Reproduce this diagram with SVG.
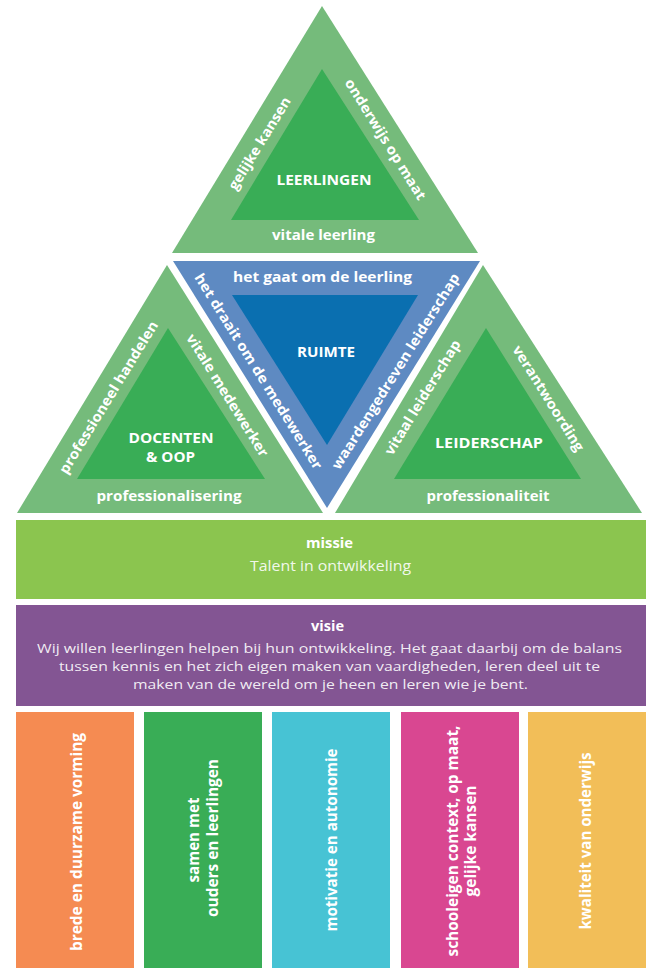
<svg xmlns="http://www.w3.org/2000/svg" width="648" height="968" viewBox="0 0 648 968">
<style>
.outer{fill:#75bb7b}
.inner{fill:#39ad56}
.bo{fill:#5e8ac2}
.bi{fill:#0a6fb0}
.b{font-family:"Open Sans","DejaVu Sans",sans-serif;font-weight:700;fill:#fff;text-anchor:middle;font-size:14px}
.r{font-family:"Open Sans","DejaVu Sans",sans-serif;font-weight:400;fill:#fff;fill-opacity:0.9;text-anchor:middle;font-size:15px}
.s{font-size:13px}
.c{dominant-baseline:central}
.v{font-size:16px}
</style>
<rect width="648" height="968" fill="#fff"/>
<g id="leerlingen">
<polygon class="outer" points="322,6 172,253 478,253"/>
<polygon class="inner" points="322,69 231,220 419,220"/>
<text class="b" x="324" y="185" textLength="95" lengthAdjust="spacingAndGlyphs">LEERLINGEN</text>
<text class="b" x="323.5" y="240" textLength="103" lengthAdjust="spacingAndGlyphs">vitale leerling</text>
<text class="b c" transform="translate(259,143) rotate(-58.5)" textLength="106" lengthAdjust="spacingAndGlyphs">gelijke kansen</text>
<text class="b c" transform="translate(386,139) rotate(58)" textLength="140" lengthAdjust="spacingAndGlyphs">onderwijs op maat</text>
</g>
<g id="ruimte">
<polygon class="bo" points="173,261 480,261 327,508"/>
<polygon class="bi" points="232,295 418,295 327,445"/>
<text class="b" x="322.5" y="282" textLength="179" lengthAdjust="spacingAndGlyphs">het gaat om de leerling</text>
<text class="b" x="326" y="357" textLength="58" lengthAdjust="spacingAndGlyphs">RUIMTE</text>
<text class="b c" transform="translate(259,371) rotate(58)" textLength="228" lengthAdjust="spacingAndGlyphs">het draait om de medewerker</text>
<text class="b c" transform="translate(395,371) rotate(-58)" textLength="228" lengthAdjust="spacingAndGlyphs">waardengedreven leiderschap</text>
</g>
<g id="docenten">
<polygon class="outer" points="167,265 17,513 323,513"/>
<polygon class="inner" points="168,328 77,479 265,479"/>
<text class="b" x="171" y="443" textLength="85" lengthAdjust="spacingAndGlyphs">DOCENTEN</text>
<text class="b" x="170.5" y="462" textLength="49" lengthAdjust="spacingAndGlyphs">&amp; OOP</text>
<text class="b" x="169" y="501" textLength="145" lengthAdjust="spacingAndGlyphs">professionalisering</text>
<text class="b c" transform="translate(108,397) rotate(-58.5)" textLength="176" lengthAdjust="spacingAndGlyphs">professioneel handelen</text>
<text class="b c" transform="translate(228,395) rotate(58)" textLength="142" lengthAdjust="spacingAndGlyphs">vitale medewerker</text>
</g>
<g id="leiderschap">
<polygon class="outer" points="483,265 335,513 642,513"/>
<polygon class="inner" points="486,328 394,479 581,479"/>
<text class="b" x="489" y="448" textLength="108" lengthAdjust="spacingAndGlyphs">LEIDERSCHAP</text>
<text class="b" x="488" y="501" textLength="123" lengthAdjust="spacingAndGlyphs">professionaliteit</text>
<text class="b c" transform="translate(422,397) rotate(-58.5)" textLength="132" lengthAdjust="spacingAndGlyphs">vitaal leiderschap</text>
<text class="b c" transform="translate(549,398) rotate(58)" textLength="122" lengthAdjust="spacingAndGlyphs">verantwoording</text>
</g>
<g id="missie">
<rect x="16" y="520" width="630" height="79" fill="#8bc54f"/>
<text class="b" x="329.5" y="548" textLength="47" lengthAdjust="spacingAndGlyphs">missie</text>
<text class="r" x="330.5" y="571" textLength="161" lengthAdjust="spacingAndGlyphs">Talent in ontwikkeling</text>
</g>
<g id="visie">
<rect x="16" y="605" width="630" height="101" fill="#835593"/>
<text class="b" x="327.5" y="631" textLength="33" lengthAdjust="spacingAndGlyphs">visie</text>
<text class="r s" x="329.5" y="653" textLength="585" lengthAdjust="spacingAndGlyphs">Wij willen leerlingen helpen bij hun ontwikkeling. Het gaat daarbij om de balans</text>
<text class="r s" x="329.5" y="671" textLength="541" lengthAdjust="spacingAndGlyphs">tussen kennis en het zich eigen maken van vaardigheden, leren deel uit te</text>
<text class="r s" x="330.5" y="689" textLength="395" lengthAdjust="spacingAndGlyphs">maken van de wereld om je heen en leren wie je bent.</text>
</g>
<g id="brede">
<rect x="16" y="712" width="118" height="256" fill="#f58b52"/>
<text class="b c v" transform="translate(76,842) rotate(-90)" textLength="218" lengthAdjust="spacingAndGlyphs">brede en duurzame vorming</text>
</g>
<g id="samen">
<rect x="144" y="712" width="118" height="256" fill="#39ad56"/>
<text class="b c v" transform="translate(193,840) rotate(-90)" textLength="85" lengthAdjust="spacingAndGlyphs">samen met</text>
<text class="b c v" transform="translate(212,838) rotate(-90)" textLength="158" lengthAdjust="spacingAndGlyphs">ouders en leerlingen</text>
</g>
<g id="motivatie">
<rect x="272" y="712" width="118" height="256" fill="#47c3d4"/>
<text class="b c v" transform="translate(331,840) rotate(-90)" textLength="183" lengthAdjust="spacingAndGlyphs">motivatie en autonomie</text>
</g>
<g id="schooleigen">
<rect x="401" y="712" width="118" height="256" fill="#d94791"/>
<text class="b c v" transform="translate(452,841) rotate(-90)" textLength="231" lengthAdjust="spacingAndGlyphs">schooleigen context, op maat,</text>
<text class="b c v" transform="translate(470,841) rotate(-90)" textLength="111" lengthAdjust="spacingAndGlyphs">gelijke kansen</text>
</g>
<g id="kwaliteit">
<rect x="528" y="712" width="118" height="256" fill="#f2be58"/>
<text class="b c v" transform="translate(585,841) rotate(-90)" textLength="177" lengthAdjust="spacingAndGlyphs">kwaliteit van onderwijs</text>
</g>
</svg>
